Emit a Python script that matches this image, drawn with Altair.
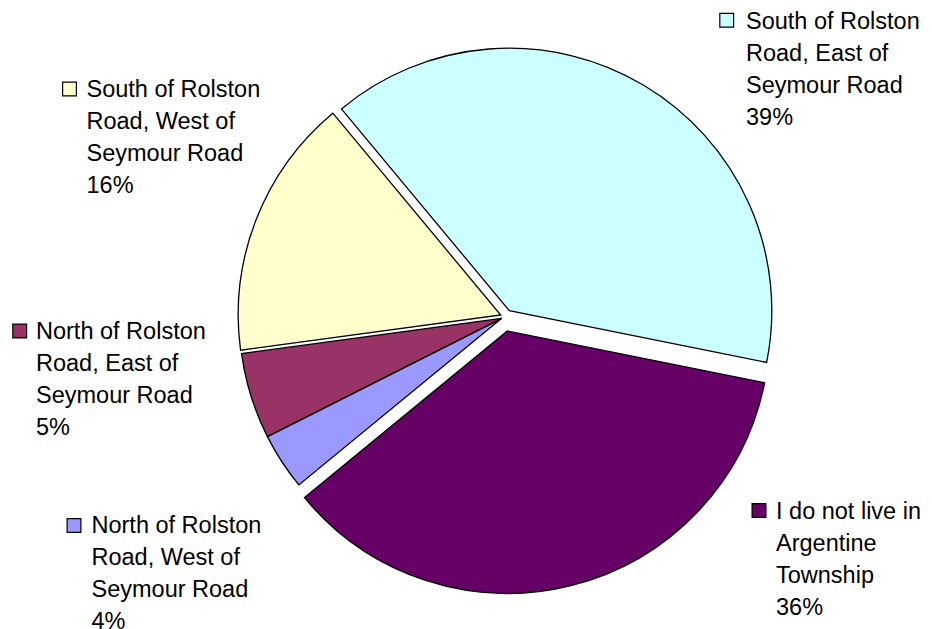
import math
import altair as alt
import pandas as pd

# ---- data (Excel series order, clockwise from first slice) ----
categories = [
    "North of Rolston Road, West of Seymour Road",
    "North of Rolston Road, East of Seymour Road",
    "South of Rolston Road, West of Seymour Road",
    "South of Rolston Road, East of Seymour Road",
    "I do not live in Argentine Township",
]
shares = [3.5, 5.3, 16.1, 39.2, 35.9]
pct_labels = ["4%", "5%", "16%", "39%", "36%"]
label_lines = [
    ["North of Rolston", "Road, West of", "Seymour Road"],
    ["North of Rolston", "Road, East of", "Seymour Road"],
    ["South of Rolston", "Road, West of", "Seymour Road"],
    ["South of Rolston", "Road, East of", "Seymour Road"],
    ["I do not live in", "Argentine", "Township"],
]

# ---- styles / layout ----
colors = ["#9999FF", "#993366", "#FFFFCC", "#CCFFFF", "#660066"]
FIRST_SLICE_DEG = 230.6
RADIUS = 262.5
# slice centres (exploded slices), chart pixel coords
centers = [
    (493.7, 310.3),
    (493.7, 310.3),
    (492.7, 307.0),
    (501.3, 302.7),
    (499.3, 323.0),
]
# label layout: (square x, square y, text x, first baseline y)
label_pos = [
    (66.0, 517.5, 83.5, 525.0),
    (11.7, 323.0, 28.0, 331.0),
    (61.5, 81.0, 78.5, 89.0),
    (718.7, 12.3, 738.0, 21.0),
    (751.0, 502.5, 768.0, 511.0),
]
FONT = "Liberation Sans"
FONT_SIZE = 23.5
LINE_H = 32

df = pd.DataFrame({"category": categories, "share": shares, "order": list(range(len(categories)))})

start = math.radians(FIRST_SLICE_DEG)
theta_scale = alt.Scale(domain=[0, 100], range=[start, start + 2 * math.pi])
color_scale = alt.Scale(domain=categories, range=colors)

base = alt.Chart(df).transform_stack(
    stack="share", groupby=[], as_=["s0", "s1"], sort=[alt.SortField("order")]
)

layers = []
for i, cat in enumerate(categories):
    cx, cy = centers[i]
    layers.append(
        base.transform_filter(alt.datum.category == cat)
        .mark_arc(radius=RADIUS, stroke="black", strokeWidth=1.3)
        .encode(
            theta=alt.Theta("s0:Q", scale=theta_scale),
            theta2="s1:Q",
            color=alt.Color("category:N", scale=color_scale, legend=None),
            x=alt.value(cx),
            y=alt.value(cy),
        )
    )

# labels
lab_rows = []
for i, cat in enumerate(categories):
    sx, sy, tx, ty = label_pos[i]
    lab_rows.append({
        "category": cat,
        "text": "\n".join(label_lines[i] + [pct_labels[i]]),
        "sx": sx, "sy": sy, "tx": tx, "ty": ty,
    })
lab_df = pd.DataFrame(lab_rows)

squares = alt.Chart(lab_df).mark_square(size=190, opacity=1, filled=True, stroke="black", strokeWidth=1.2).encode(
    x=alt.X("sx:Q", scale=None, axis=None),
    y=alt.Y("sy:Q", scale=None, axis=None),
    color=alt.Color("category:N", scale=color_scale, legend=None),
)
texts = alt.Chart(lab_df).mark_text(
    align="left", baseline="alphabetic", font=FONT, fontSize=FONT_SIZE,
    lineHeight=LINE_H, lineBreak="\n", color="black",
).encode(
    x=alt.X("tx:Q", scale=None, axis=None),
    y=alt.Y("ty:Q", scale=None, axis=None),
    text="text:N",
)

chart = alt.layer(*layers, squares, texts).properties(
    width=916, height=621, padding=0,
    autosize=alt.AutoSizeParams(type="none"),
).configure_view(stroke=None)

chart.save("out.html", embed_options={"renderer": "svg", "actions": False})
